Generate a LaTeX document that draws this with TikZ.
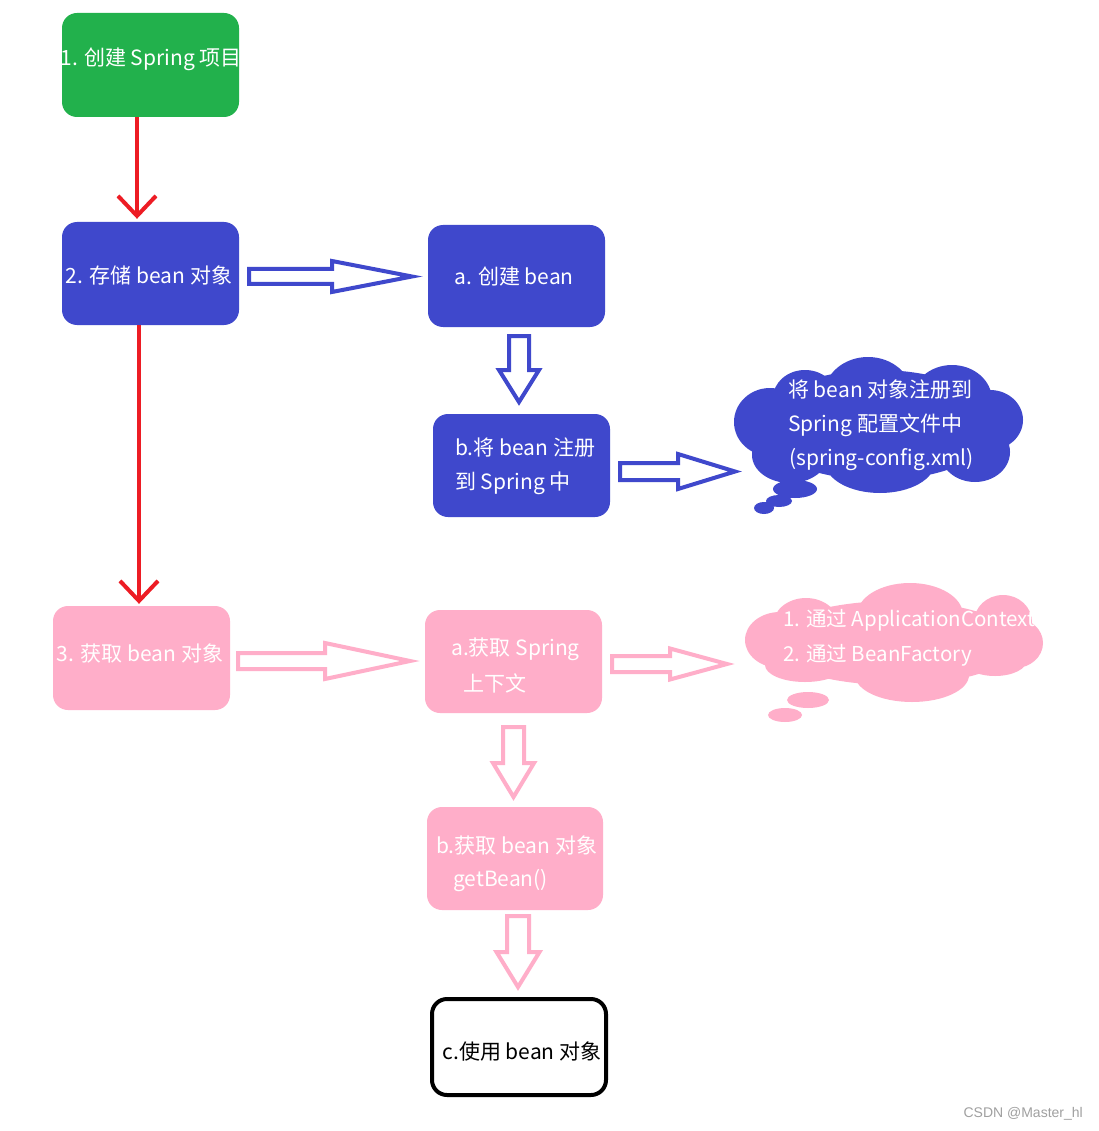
\documentclass[tikz,border=0pt]{standalone}
\usepackage{fontspec}
\setmainfont{Noto Sans CJK SC}
\newfontfamily\wmfont{Liberation Sans}
\usetikzlibrary{arrows.meta}
\definecolor{pgreen}{RGB}{34,177,76}
\definecolor{pblue}{RGB}{63,72,204}
\definecolor{ppink}{RGB}{255,174,201}
\definecolor{pred}{RGB}{237,28,36}
\definecolor{wmgray}{RGB}{160,160,160}
% horizontal block arrow: style, x0, xtip, xhead, yc, shaft half, head half
\newcommand{\HBlock}[7]{\draw[#1] (#2,#5-#6) -- (#4,#5-#6) -- (#4,#5-#7) -- (#3,#5) -- (#4,#5+#7) -- (#4,#5+#6) -- (#2,#5+#6) -- cycle;}
% vertical block arrow: style, y0, ytip, yhead, xc, shaft half, head half
\newcommand{\VBlock}[7]{\draw[#1] (#5-#6,#2) -- (#5-#6,#4) -- (#5-#7,#4) -- (#5,#3) -- (#5+#7,#4) -- (#5+#6,#4) -- (#5+#6,#2) -- cycle;}
% ellipse helper: cx, cy, rx, ry
\newcommand{\El}[4]{(#1,#2) ellipse [x radius=#3pt, y radius=#4pt]}
\tikzset{
  box/.style={rounded corners=15pt, inner sep=0pt, minimum width=177pt, minimum height=103pt},
  lbl/.style={text=white, inner sep=0pt, font=\fontsize{21pt}{25pt}\selectfont},
  redarrow/.style={draw=pred, line width=4pt, -{Straight Barb[length=20pt,width=38pt]}},
  bluehollow/.style={draw=pblue, line width=4pt, fill=white, line join=miter},
  pinkhollow/.style={draw=ppink, line width=4pt, fill=white, line join=miter}
}
\begin{document}
\begin{tikzpicture}[x=1pt,y=-1pt]
\useasboundingbox[fill=white] (0,0) rectangle (1098,1131);

% boxes
\node[box, fill=pgreen, minimum height=104pt] (g1) at (150.5,65) {};
\node[box, fill=pblue] (b2) at (150.5,273.5) {};
\node[box, fill=pblue, minimum height=102pt] (ba) at (516.5,276) {};
\node[box, fill=pblue] (bb) at (521.5,465.5) {};
\node[box, fill=ppink, minimum height=104pt] (p3) at (141.5,658) {};
\node[box, fill=ppink] (pa) at (513.5,661.5) {};
\node[box, fill=ppink, minimum width=176pt] (pb) at (515,858.5) {};
\node[box, draw=black, line width=4pt, fill=white, minimum width=174pt, minimum height=96pt] (pc) at (519,1047) {};

% blue cloud
\fill[pblue] \El{878}{425}{120}{55}
  \El{770}{422}{36}{34} \El{805}{398}{32}{28} \El{868}{395}{44}{38}
  \El{952}{400}{40}{35} \El{990}{420}{33}{30} \El{975}{452}{35}{30}
  \El{880}{462}{55}{31} \El{790}{455}{38}{28}
  \El{795}{489}{22}{9} \El{779}{501}{13}{6} \El{764}{508}{10}{6};
% pink cloud
\fill[ppink] \El{894}{643}{125}{42}
  \El{780}{640}{35}{28} \El{806}{625}{33}{27} \El{910}{615}{53}{32}
  \El{1003}{622}{29}{27} \El{1015}{643}{28}{25} \El{995}{660}{32}{16}
  \El{912}{675}{57}{27} \El{805}{665}{40}{17}
  \El{808}{700}{21}{8} \El{785}{715}{17}{7};

% labels
\node[lbl] (t1) at (151,59) {1. 创建 Spring 项目};
\node[lbl] (t2) at (149,275) {2. 存储 bean 对象};
\node[lbl] (ta) at (514,277) {a. 创建 bean};
\node[lbl, anchor=west] (tb1) at (455,448) {b.将 bean 注册};
\node[lbl, anchor=west] (tb2) at (455,483) {到 Spring 中};
\node[lbl, anchor=west] (cb1) at (788,390) {将 bean 对象注册到};
\node[lbl, anchor=west] (cb2) at (788,425) {Spring 配置文件中};
\node[lbl, anchor=west] (cb3) at (789,460) {(spring-config.xml)};
\node[lbl] (t3) at (140,653) {3. 获取 bean 对象};
\node[lbl, anchor=west] (tpa1) at (451,649) {a.获取 Spring};
\node[lbl, anchor=west] (tpa2) at (463,683) {上下文};
\node[lbl, anchor=west, font=\fontsize{20.5pt}{25pt}\selectfont] (cp1) at (783,620) {1. 通过 ApplicationContext};
\node[lbl, anchor=west, font=\fontsize{20.5pt}{25pt}\selectfont] (cp2) at (783,655) {2. 通过 BeanFactory};
\node[lbl, anchor=west] (tpb1) at (436,845) {b.获取 bean 对象};
\node[lbl, anchor=west] (tpb2) at (453,881) {getBean()};
\node[lbl, text=black] (tc) at (522,1052) {c.使用 bean 对象};
\node[inner sep=0pt, anchor=east, text=wmgray, font=\wmfont\fontsize{14pt}{16pt}\selectfont] (wm) at (1083,1114) {CSDN @Master\_hl};

% red connectors
\draw[redarrow, shorten >=3pt] ([xshift=-13.5pt]g1.south) -- ([xshift=-13.5pt]b2.north);
\draw[redarrow, shorten >=2pt] ([xshift=-11.5pt]b2.south) -- ([xshift=-11.5pt]b2.south |- p3.north);

% hollow block arrows
\HBlock{bluehollow}{249}{412}{332}{276.5}{7.5}{15.5}
\VBlock{bluehollow}{336}{402}{370}{519}{10}{20}
\HBlock{bluehollow}{620}{735}{678}{471.5}{8.5}{17.5}
\HBlock{pinkhollow}{238}{410}{325}{661}{8}{18}
\VBlock{pinkhollow}{727}{797}{763}{513.5}{10.5}{20.5}
\HBlock{pinkhollow}{612}{727}{670}{664}{8}{15.5}
\VBlock{pinkhollow}{916}{987}{952}{518}{11}{21.5}
\end{tikzpicture}
\end{document}
